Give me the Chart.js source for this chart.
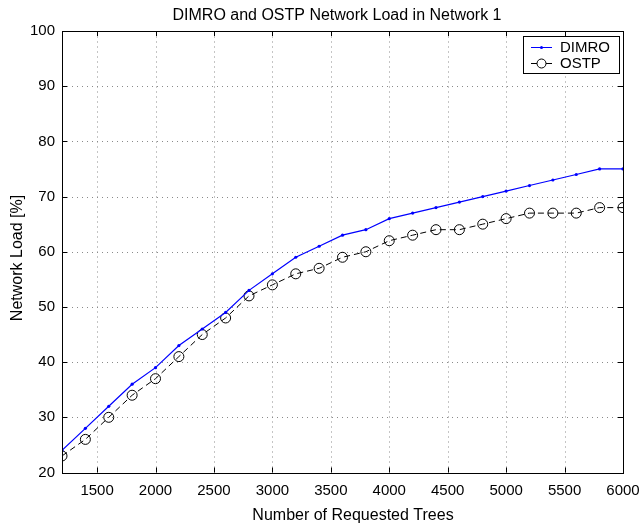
<!DOCTYPE html>
<html lang="en">
<head>
<meta charset="UTF-8">
<title>DIMRO and OSTP Network Load</title>
<script src="https://cdn.jsdelivr.net/npm/chart.js"></script>
<style>
  html, body { margin: 0; padding: 0; background: #fff; }
  #wrap { width: 640px; height: 525px; }
</style>
</head>
<body>
<div id="wrap"><canvas id="load_chart"></canvas></div>
<script>
// requested trees (x values)
var trees = [1200, 1400, 1600, 1800, 2000, 2200, 2400, 2600, 2800, 3000, 3200, 3400, 3600,
             3800, 4000, 4200, 4400, 4600, 4800, 5000, 5200, 5400, 5600, 5800, 6000];
var dimroLoad = [24, 28, 32, 36, 39, 43, 46, 49, 53, 56, 59, 61, 63, 64, 66, 67, 68, 69, 70, 71, 72, 73, 74, 75, 75];
var ostpLoad  = [23, 26, 30, 34, 37, 41, 45, 48, 52, 54, 56, 57, 59, 60, 62, 63, 64, 64, 65, 66, 67, 67, 67, 68, 68];
var xTicks = [1500, 2000, 2500, 3000, 3500, 4000, 4500, 5000, 5500, 6000];
var yTicks = [20, 30, 40, 50, 60, 70, 80, 90, 100];

var titleText = 'DIMRO and OSTP Network Load in Network 1';
var xLabel = 'Number of Requested Trees';
var yLabel = 'Network Load [%]';

var FONT = "'Liberation Sans', Arial, Helvetica, sans-serif";

function toPoints(ys) {
  return trees.map(function (x, i) { return { x: x, y: ys[i] }; });
}

// dotted grid drawn under the lines
var dottedGrid = {
  id: 'dottedGrid',
  beforeDatasetsDraw: function (chart) {
    var ctx = chart.ctx, a = chart.chartArea;
    var xs = chart.scales.x, ys = chart.scales.y;
    ctx.save();
    ctx.strokeStyle = '#8a8a8a';
    ctx.lineWidth = 1;
    ctx.setLineDash([1, 4]);
    ctx.beginPath();
    xTicks.forEach(function (v) {
      var px = Math.round(xs.getPixelForValue(v)) + 0.5;
      ctx.moveTo(px, a.bottom); ctx.lineTo(px, a.top);
    });
    yTicks.forEach(function (v) {
      var py = Math.round(ys.getPixelForValue(v)) + 0.5;
      ctx.moveTo(a.left, py); ctx.lineTo(a.right, py);
    });
    ctx.stroke();
    ctx.restore();
  }
};

// box, inward ticks, labels and legend the matlab way
var matlabFrame = {
  id: 'matlabFrame',
  afterDraw: function (chart) {
    var ctx = chart.ctx, a = chart.chartArea;
    var xs = chart.scales.x, ys = chart.scales.y;
    ctx.save();
    ctx.strokeStyle = '#000';
    ctx.lineWidth = 1;
    ctx.setLineDash([]);
    ctx.strokeRect(Math.round(a.left) + 0.5, Math.round(a.top) + 0.5,
                   Math.round(a.right - a.left), Math.round(a.bottom - a.top));
    ctx.beginPath();
    xTicks.forEach(function (v) {
      var px = Math.round(xs.getPixelForValue(v)) + 0.5;
      ctx.moveTo(px, a.bottom); ctx.lineTo(px, a.bottom - 5);
      ctx.moveTo(px, a.top); ctx.lineTo(px, a.top + 5);
    });
    yTicks.forEach(function (v) {
      var py = Math.round(ys.getPixelForValue(v)) + 0.5;
      ctx.moveTo(a.left, py); ctx.lineTo(a.left + 5, py);
      ctx.moveTo(a.right, py); ctx.lineTo(a.right - 5, py);
    });
    ctx.stroke();

    // titles
    ctx.fillStyle = '#000';
    ctx.textAlign = 'center';
    ctx.textBaseline = 'alphabetic';
    ctx.font = '16px ' + FONT;
    ctx.fillText(titleText, 337, 19.5);
    ctx.fillText(xLabel, 353, 519.5);
    ctx.save();
    ctx.translate(21.5, 258);
    ctx.rotate(-Math.PI / 2);
    ctx.fillText(yLabel, 0, 0);
    ctx.restore();

    // legend
    var bx = 523, by = 36, bw = 96, bh = 37;
    ctx.fillStyle = '#fff';
    ctx.fillRect(bx, by, bw, bh);
    ctx.strokeStyle = '#000';
    ctx.strokeRect(bx + 0.5, by + 0.5, bw, bh);
    ctx.font = '15px ' + FONT;
    ctx.textAlign = 'left';
    ctx.textBaseline = 'middle';
    var rows = [
      { label: 'DIMRO', color: '#0000ff', y: 47, circle: false },
      { label: 'OSTP', color: '#000', y: 63, circle: true }
    ];
    rows.forEach(function (r) {
      ctx.strokeStyle = r.color;
      ctx.beginPath();
      ctx.moveTo(531, r.y + 0.5); ctx.lineTo(552, r.y + 0.5);
      ctx.stroke();
      ctx.beginPath();
      if (r.circle) {
        ctx.arc(541.5, r.y + 0.5, 4.5, 0, Math.PI * 2);
        ctx.fillStyle = '#fff'; ctx.fill();
        ctx.stroke();
      } else {
        ctx.arc(541.5, r.y + 0.5, 1.5, 0, Math.PI * 2);
        ctx.fillStyle = r.color; ctx.fill();
      }
      ctx.fillStyle = '#000';
      ctx.fillText(r.label, 560, r.y + 1);
    });
    ctx.restore();
  }
};

new Chart(document.getElementById('load_chart'), {
  type: 'line',
  data: {
    datasets: [
      {
        label: 'DIMRO',
        data: toPoints(dimroLoad),
        borderColor: '#0000ff',
        backgroundColor: '#0000ff',
        borderWidth: 1.2,
        pointRadius: 1.6,
        pointBorderWidth: 0,
        tension: 0
      },
      {
        label: 'OSTP',
        data: toPoints(ostpLoad),
        borderColor: '#000',
        backgroundColor: 'rgba(0,0,0,0)',
        borderWidth: 1,
        borderDash: [6, 4],
        pointRadius: 5,
        pointBorderWidth: 1,
        pointBorderColor: '#000',
        pointBackgroundColor: 'rgba(0,0,0,0)',
        tension: 0
      }
    ]
  },
  options: {
    responsive: true,
    maintainAspectRatio: false,
    animation: false,
    layout: { padding: { left: 0, right: 17, top: 31, bottom: 0 } },
    plugins: {
      legend: { display: false },
      tooltip: { enabled: false },
      title: { display: false }
    },
    scales: {
      x: {
        type: 'linear',
        min: 1200,
        max: 6000,
        afterBuildTicks: function (scale) {
          scale.ticks = xTicks.map(function (v) { return { value: v }; });
        },
        afterFit: function (scale) {
          scale.height = 52.5;
          scale.paddingLeft = 0;
          scale.paddingRight = 0;
        },
        grid: { display: false, drawTicks: false },
        border: { display: false },
        ticks: {
          color: '#000',
          padding: 9,
          maxRotation: 0,
          autoSkip: false,
          font: { family: FONT, size: 15 },
          callback: function (v) { return String(v); }
        }
      },
      y: {
        type: 'linear',
        min: 20,
        max: 100,
        afterBuildTicks: function (scale) {
          scale.ticks = yTicks.map(function (v) { return { value: v }; });
        },
        afterFit: function (scale) {
          scale.width = 62;
          scale.paddingTop = 0;
          scale.paddingBottom = 0;
        },
        grid: { display: false, drawTicks: false },
        border: { display: false },
        ticks: {
          color: '#000',
          padding: 7,
          autoSkip: false,
          font: { family: FONT, size: 15 },
          callback: function (v) { return String(v); }
        }
      }
    }
  },
  plugins: [dottedGrid, matlabFrame]
});
</script>
</body>
</html>
